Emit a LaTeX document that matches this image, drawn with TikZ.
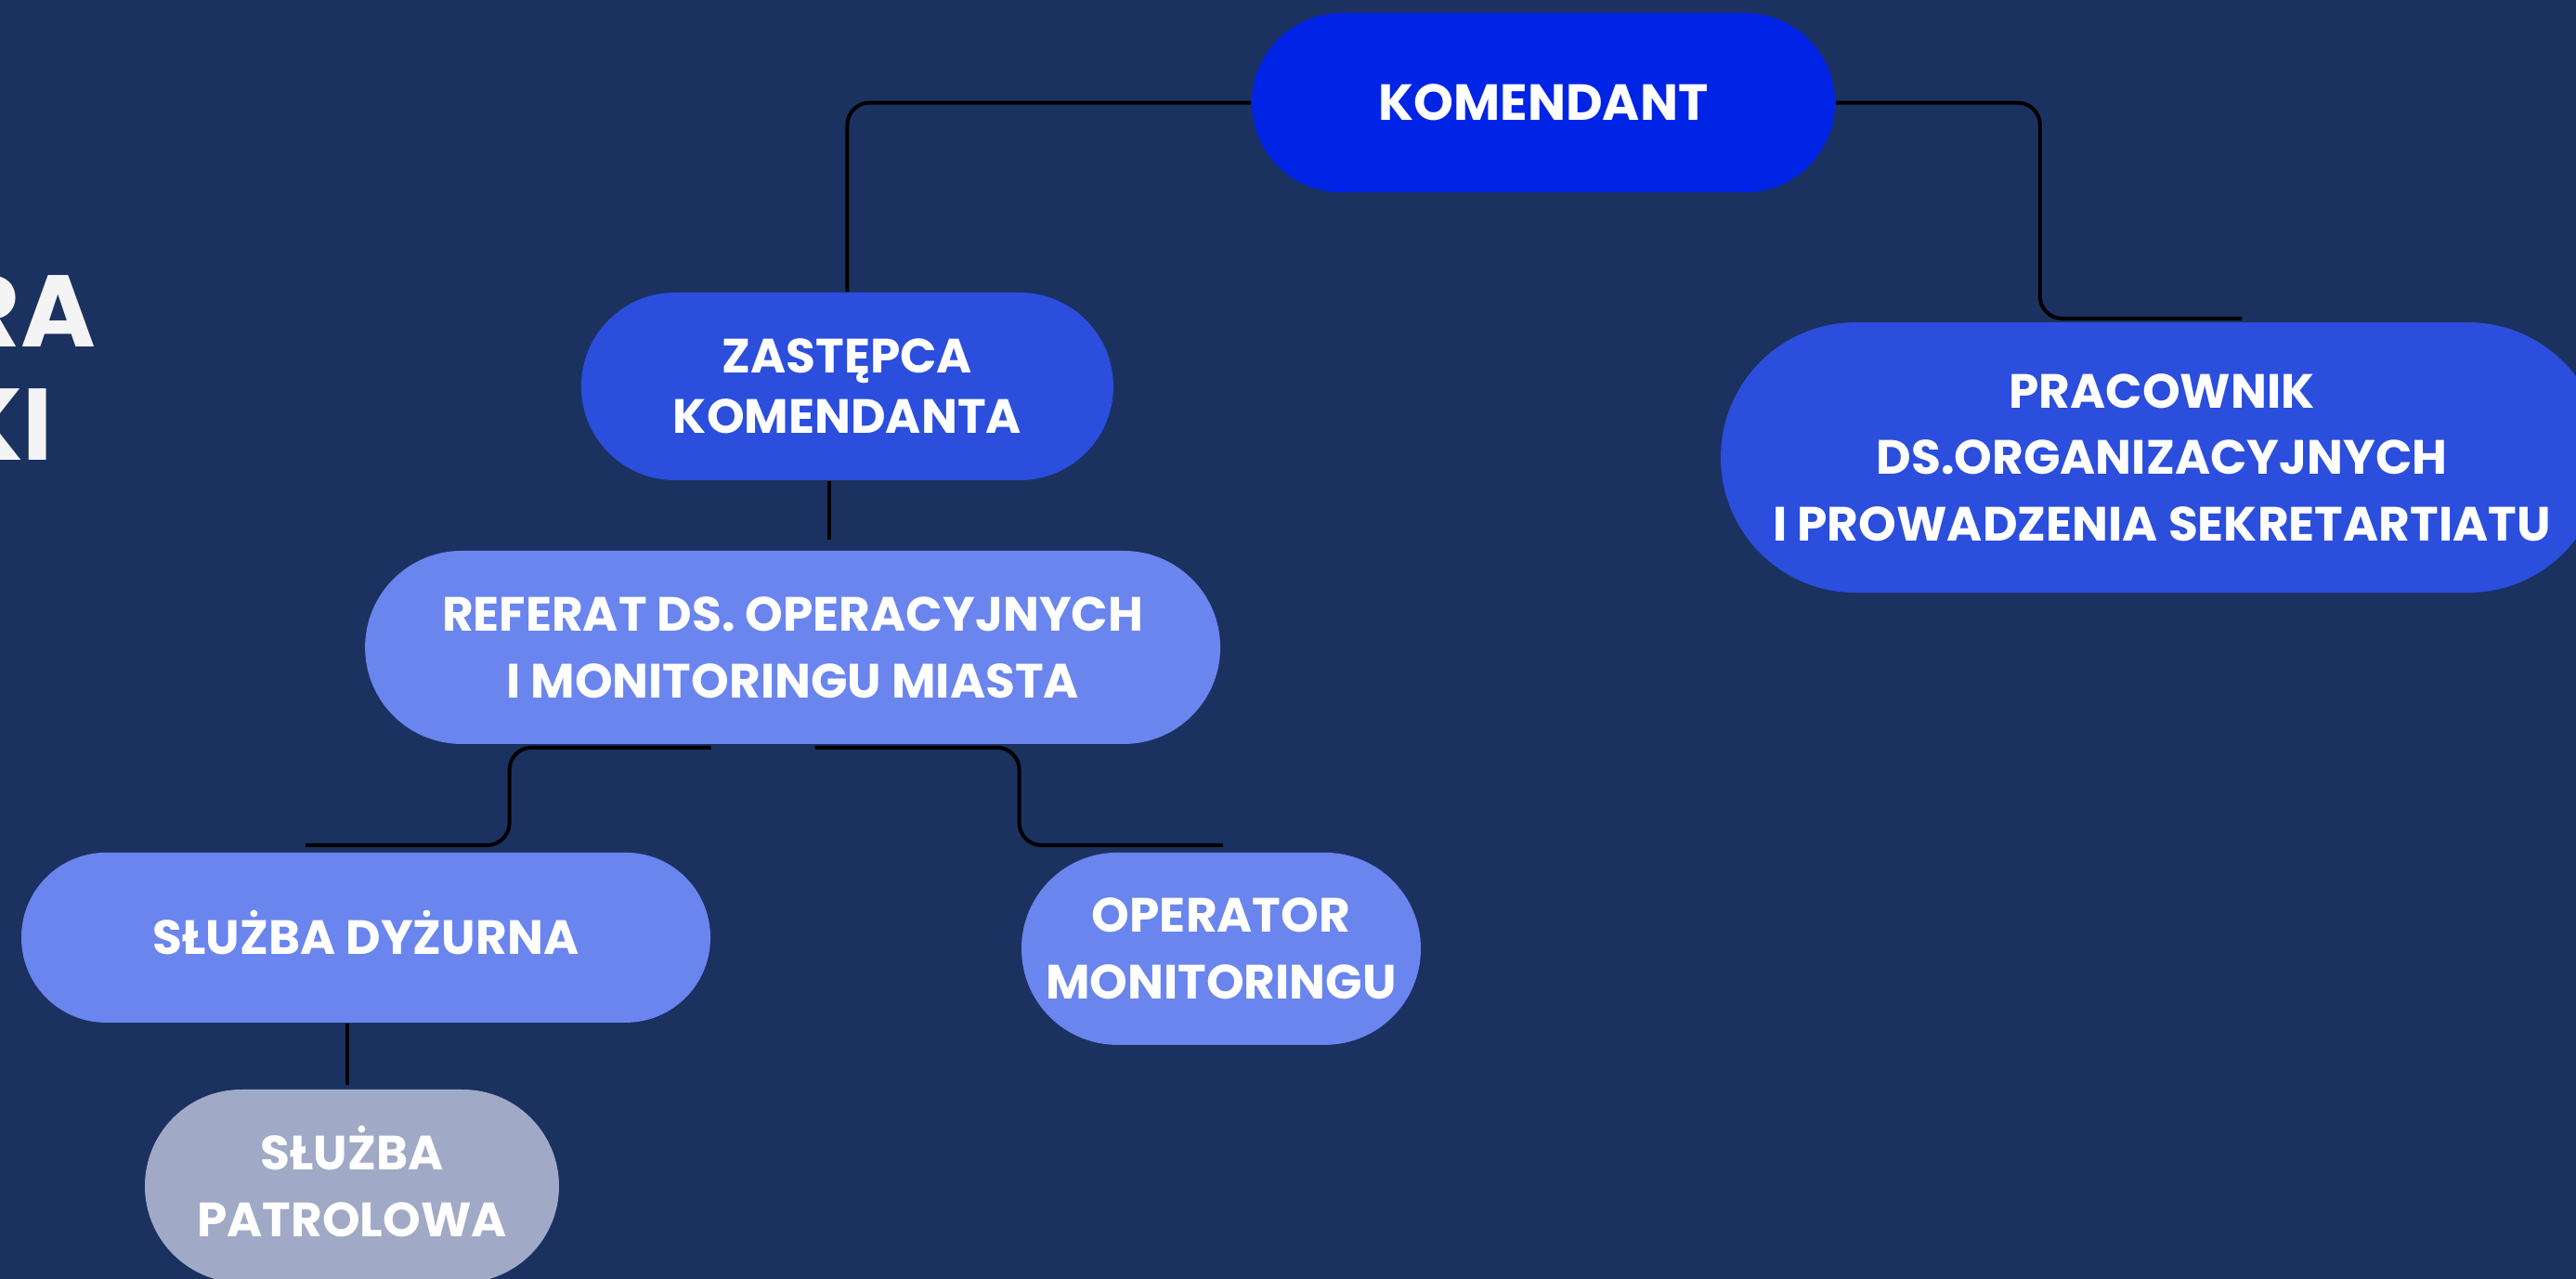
\documentclass[tikz,border=0pt]{standalone}
\usepackage[x11names, svgnames, rgb]{xcolor}
\usepackage{tikz}
\usetikzlibrary{arrows,shapes}
\usepackage{fontspec}
\setmainfont{Poppins}

\definecolor{nightbg}{HTML}{1B3160}
\definecolor{chiefblue}{HTML}{0024E6}
\definecolor{deputyblue}{HTML}{2B4EDD}
\definecolor{unitblue}{HTML}{6A85EE}
\definecolor{patrolgrey}{HTML}{A0A9C6}
\definecolor{titlewhite}{HTML}{F4F4F4}

\tikzset{
  unit/.style={rectangle, inner sep=0pt, align=center, text=white,
    font=\bfseries\fontsize{13}{18}\selectfont},
  link/.style={draw=black, line width=1bp, rounded corners=6bp},
}

\begin{document}
\begin{tikzpicture}[line join=bevel,]
\fill [nightbg] (0bp,0bp) rectangle (693.5bp,344.25bp);
\useasboundingbox (0bp,0bp) rectangle (693.5bp,344.25bp);
%%
\begin{scope}
  \node (RA) at (26bp,250.75bp) [anchor=base east,inner sep=0pt,text=titlewhite,font=\bfseries\fontsize{27.5}{33}\selectfont] {RA};
  \node (KI) at (14.5bp,220.25bp) [anchor=base east,inner sep=0pt,text=titlewhite,font=\bfseries\fontsize{27.5}{33}\selectfont] {KI};
\end{scope}
\begin{scope}
  \node (Komendant) at (415.5bp,316.6bp) [unit,fill=chiefblue,minimum width=157bp,minimum height=48.25bp,rounded corners=24.1bp,font=\bfseries\fontsize{13.7}{18}\selectfont] {KOMENDANT};
  \node (Zastepca) at (228.1bp,240.25bp) [unit,fill=deputyblue,minimum width=143.25bp,minimum height=50.5bp,rounded corners=25.2bp,font=\bfseries\fontsize{13}{16.3}\selectfont] {ZASTĘPCA\\KOMENDANTA};
  \node (Pracownik) at (582bp,221.1bp) [unit,fill=deputyblue,minimum width=237.5bp,minimum height=72.75bp,rounded corners=36.3bp] {PRACOWNIK\\DS.ORGANIZACYJNYCH\\I PROWADZENIA SEKRETARTIATU};
  \node (Referat) at (213.4bp,170bp) [unit,fill=unitblue,minimum width=230.25bp,minimum height=52bp,rounded corners=26bp] {REFERAT DS. OPERACYJNYCH\\I MONITORINGU MIASTA};
  \node (Dyzurna) at (98.5bp,91.9bp) [unit,fill=unitblue,minimum width=185.5bp,minimum height=45.75bp,rounded corners=22.8bp,text height=9.1bp,text depth=0bp] {SŁUŻBA DYŻURNA};
  \node (Operator) at (328.75bp,88.9bp) [unit,fill=unitblue,minimum width=107.5bp,minimum height=51.75bp,rounded corners=25.8bp] {OPERATOR\\MONITORINGU};
  \node (Patrolowa) at (94.75bp,25bp) [unit,fill=patrolgrey,minimum width=111.5bp,minimum height=52bp,rounded corners=26bp,text height=27.1bp,text depth=0bp] {SŁUŻBA\\PATROLOWA};
  \coordinate (Pracownik join) at (603.5bp,258.5bp);
  \coordinate (Dyzurna join) at (82.25bp,116.75bp);
  \coordinate (Operator join) at (329.25bp,116.75bp);
\end{scope}
\begin{scope}
  \draw [link] (Komendant.west) -| (Zastepca.north);
  \draw [link] (Komendant.east) -- ++(55bp,0bp) |- (Pracownik join);
  \draw [link] ([xshift=-4.75bp]Zastepca.south) -- ++(0bp,-15.75bp);
  \draw [link] ([xshift=-22bp,yshift=-0.75bp]Referat.south) -- ++(-54.25bp,0bp) |- (Dyzurna join);
  \draw [link] ([xshift=6bp,yshift=-0.75bp]Referat.south) -- ++(55bp,0bp) |- (Operator join);
  \draw [link] ([xshift=-5bp]Dyzurna.south) -- ++(0bp,-16.5bp);
\end{scope}
%
\end{tikzpicture}
\end{document}
